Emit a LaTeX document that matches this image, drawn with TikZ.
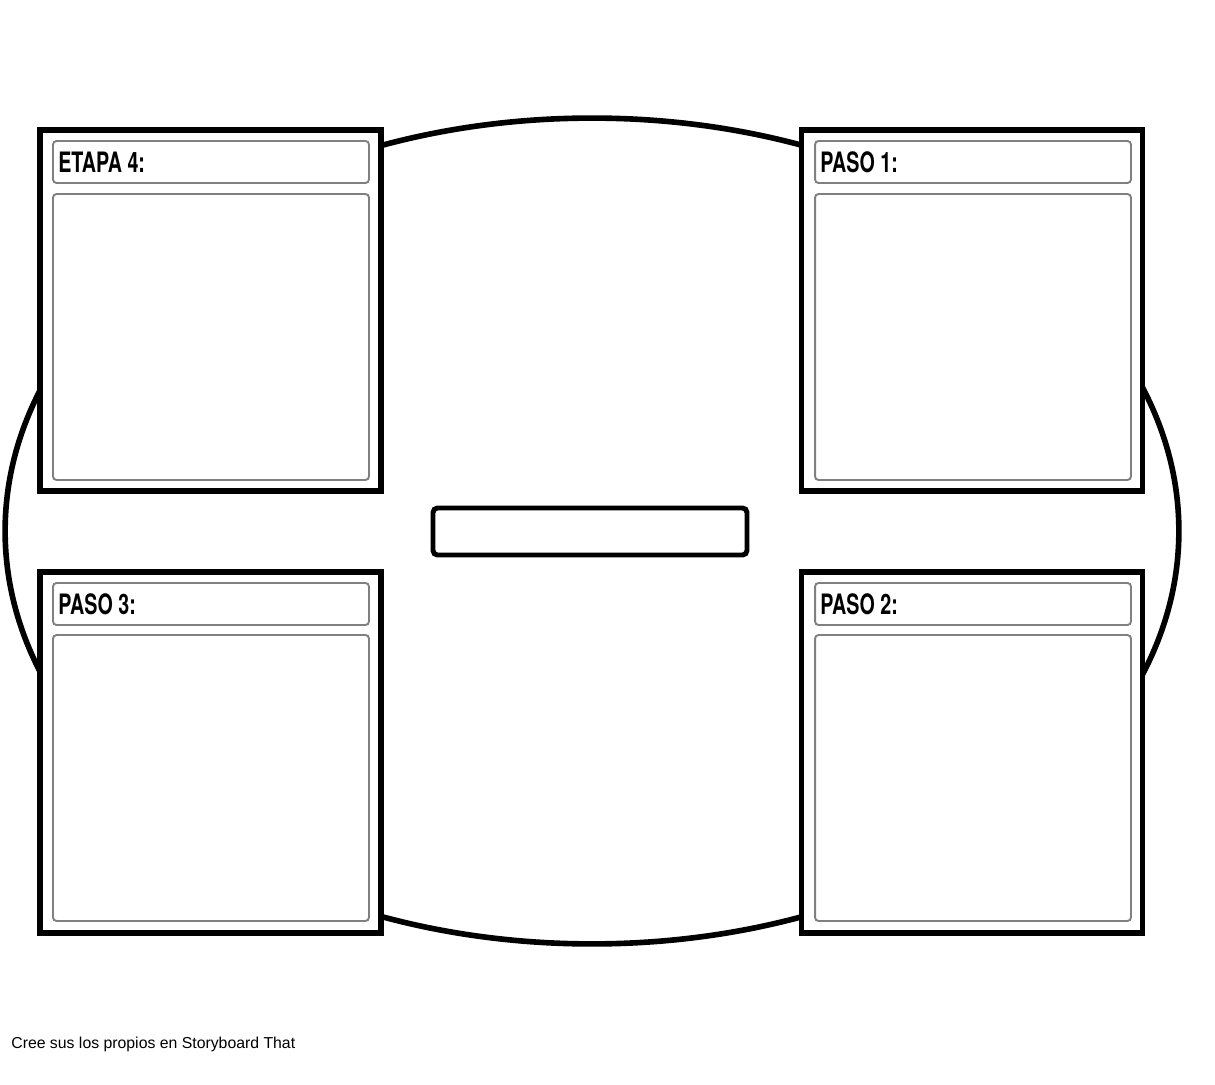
\documentclass[tikz,border=0pt]{standalone}
\usepackage{fontspec}
\usetikzlibrary{shapes.geometric}
\setmainfont{Liberation Sans}
\newfontfamily\headfont[FakeStretch=0.7]{TeX Gyre Heros}
\begin{document}
\begin{tikzpicture}[x=0.02cm, y=-0.02cm]
% Estilos para componentes
\tikzstyle{frame} = [rectangle, draw=black, line width=3.3pt, fill=white, inner sep=0pt, outer sep=0pt, minimum width=6.82cm, minimum height=7.22cm]
\tikzstyle{titlebox} = [rectangle, rounded corners=2pt, draw=gray, line width=1.1pt, inner sep=0pt, minimum width=6.32cm, minimum height=0.84cm]
\tikzstyle{contentbox} = [rectangle, rounded corners=2pt, draw=gray, line width=1.1pt, inner sep=0pt, minimum width=6.32cm, minimum height=5.72cm]
\tikzstyle{steplabel} = [anchor=west, inner sep=0pt, font=\headfont\bfseries\fontsize{16}{16}\selectfont]

\useasboundingbox (0,0) rectangle (1215,1085);

% Ciclo
\node[ellipse, draw=black, line width=3.2pt, inner sep=0pt, minimum width=23.48cm, minimum height=16.52cm] (cycle) at (592,531) {};

% Etapa 4 (arriba izquierda)
\node[frame] (stageA) at (210.5,310.5) {};
\node[titlebox] (stageAtitle) at (211,162) {};
\node[contentbox] (stageAbody) at (211,337) {};
\node[steplabel] (stageAlabel) at (58,162) {ETAPA 4:};

% Paso 1 (arriba derecha)
\node[frame] (stepA) at (972,310.5) {};
\node[titlebox] (stepAtitle) at (973,162) {};
\node[contentbox] (stepAbody) at (973,337) {};
\node[steplabel] (stepAlabel) at (820,162) {PASO 1:};

% Paso 3 (abajo izquierda)
\node[frame] (stepC) at (210.5,752.5) {};
\node[titlebox] (stepCtitle) at (211,604) {};
\node[contentbox] (stepCbody) at (211,778) {};
\node[steplabel] (stepClabel) at (58,604) {PASO 3:};

% Paso 2 (abajo derecha)
\node[frame] (stepB) at (972,752.5) {};
\node[titlebox] (stepBtitle) at (973,604) {};
\node[contentbox] (stepBbody) at (973,778) {};
\node[steplabel] (stepBlabel) at (820,604) {PASO 2:};

% Titulo central
\node[rectangle, rounded corners=2.5pt, draw=black, line width=2.8pt, fill=white, inner sep=0pt, minimum width=6.28cm, minimum height=0.94cm] (center) at (590,531.5) {};

% Pie
\node[anchor=base west, inner sep=0pt, font=\fontsize{9}{10}\selectfont] (footer) at (11,1048) {Cree sus los propios en Storyboard That};
\end{tikzpicture}
\end{document}
